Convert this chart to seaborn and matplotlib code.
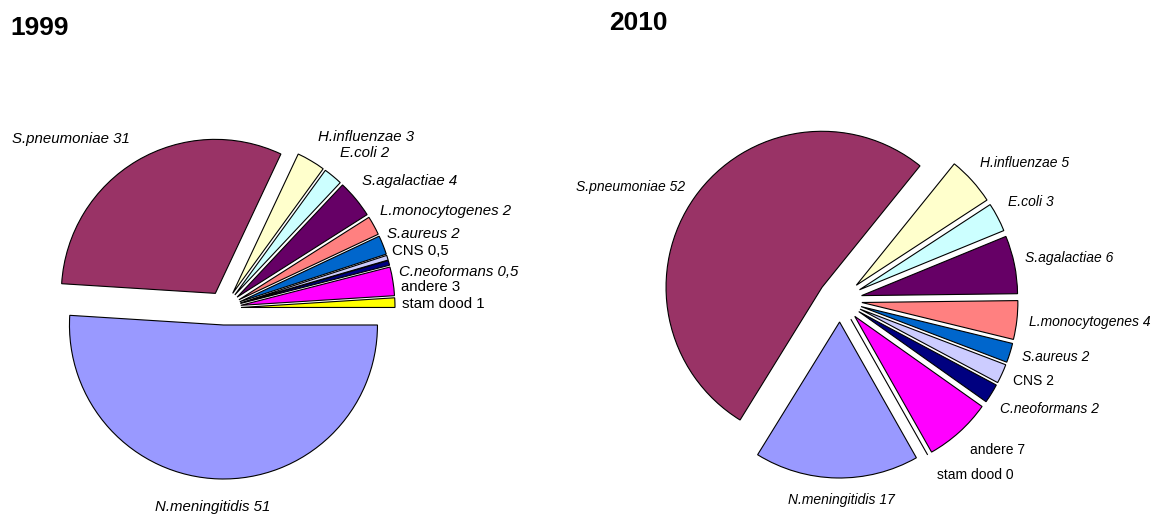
import matplotlib
matplotlib.use("Agg")
import matplotlib.pyplot as plt
import seaborn as sns

sns.set_theme(style="white")
plt.rcParams['font.family'] = ['Liberation Sans', 'DejaVu Sans']

# --- data ---
namen = ['N.meningitidis', 'S.pneumoniae', 'H.influenzae', 'E.coli', 'S.agalactiae',
         'L.monocytogenes', 'S.aureus', 'CNS', 'C.neoformans', 'andere', 'stam dood']
cursief = [True, True, True, True, True, True, True, False, True, False, False]
waarden_1999 = [51, 31, 3, 2, 4, 2, 2, 0.5, 0.5, 3, 1]
waarden_2010 = [17, 52, 5, 3, 6, 4, 2, 2, 2, 7, 0]
kleuren = ['#9999FF', '#993366', '#FFFFCC', '#CCFFFF', '#660066', '#FF8080',
           '#0066CC', '#CCCCFF', '#000080', '#FF00FF', '#FFFF00']

# --- layout (pixels, y from top) ---
W, H = 1158, 516
pies = {
    '1999': dict(waarden=waarden_1999, center=(224, 308), radius=154, explode=17,
                 start=0, fs=10.8, title_xy=(10, 28),
                 labels=[(213, 507, 'center'), (12, 139, 'left'), (318, 137, 'left'),
                         (340, 153, 'left'), (362, 181, 'left'), (380, 211, 'left'),
                         (387, 234, 'left'), (392, 251, 'left'), (399, 272, 'left'),
                         (401, 287, 'left'), (402, 304, 'left')]),
    '2010': dict(waarden=waarden_2010, center=(840, 300), radius=156, explode=22,
                 start=-60.5, fs=10, title_xy=(609, 23),
                 labels=[(841, 500, 'center'), (576, 187, 'left'), (980, 163, 'left'),
                         (1008, 202, 'left'), (1025, 258, 'left'), (1029, 322, 'left'),
                         (1022, 357, 'left'), (1013, 381, 'left'), (1000, 409, 'left'),
                         (970, 450, 'left'), (937, 475, 'left')]),
}

fig = plt.figure(figsize=(W / 100, H / 100), dpi=100)
ax = fig.add_axes([0, 0, 1, 1])

for jaar, p in pies.items():
    cx, cy = p['center']
    ax.pie(p['waarden'], colors=kleuren, startangle=p['start'], counterclock=False,
           center=(cx, H - cy), radius=p['radius'],
           explode=[p['explode']] * len(p['waarden']),
           wedgeprops=dict(edgecolor='black', linewidth=0.8))
    for naam, w, it, (lx, ly, ha) in zip(namen, p['waarden'], cursief, p['labels']):
        # komma als decimaalteken
        tekst = naam + ' ' + f"{w:g}".replace('.', ',')
        ax.text(lx, H - ly, tekst, ha=ha, va='center', fontsize=p['fs'],
                style='italic' if it else 'normal', color='black')
    tx, ty = p['title_xy']
    ax.text(tx, H - ty, jaar, ha='left', va='center', fontsize=19,
            fontweight='bold', color='black')

ax.set_xlim(0, W)
ax.set_ylim(0, H)
ax.set_aspect('auto')
ax.axis('off')

fig.savefig('out.png', dpi=100, facecolor='white')
